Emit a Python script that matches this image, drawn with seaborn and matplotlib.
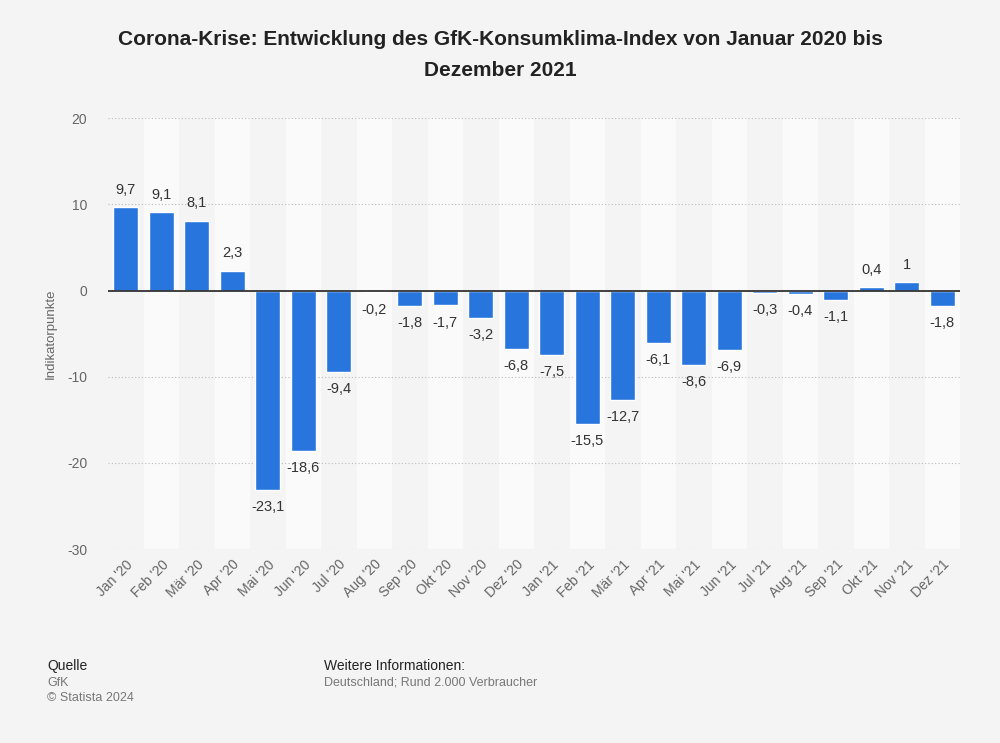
import pandas as pd
from matplotlib import pyplot as plt
import numpy as np
import seaborn as sns

months = ["Jan '20", "Feb '20", "Mär '20", "Apr '20", "Mai '20", "Jun '20",
          "Jul '20", "Aug '20", "Sep '20", "Okt '20", "Nov '20", "Dez '20",
          "Jan '21", "Feb '21", "Mär '21", "Apr '21", "Mai '21", "Jun '21",
          "Jul '21", "Aug '21", "Sep '21", "Okt '21", "Nov '21", "Dez '21"]
values = [9.7, 9.1, 8.1, 2.3, -23.1, -18.6, -9.4, -0.2, -1.8, -1.7, -3.2, -6.8,
          -7.5, -15.5, -12.7, -6.1, -8.6, -6.9, -0.3, -0.4, -1.1, 0.4, 1.0, -1.8]

df = pd.DataFrame({"month": months, "value": values})

sns.set_style("white")
plt.rcParams['font.family'] = ['Liberation Sans', 'DejaVu Sans']
plt.rcParams['axes.unicode_minus'] = False

bg = "#f4f4f4"
fig = plt.figure(figsize=[10, 7.43], dpi=100, facecolor=bg)
ax = fig.add_axes([0.108, 0.261, 0.852, 0.58])
ax.set_facecolor(bg)

# alternating column bands
for i in range(len(months)):
    if i % 2 == 1:
        ax.axvspan(i - 0.5, i + 0.5, color="#fafafa", zorder=0, lw=0)

sns.barplot(data=df, x="month", y="value", color="#2876dd", width=0.7,
            saturation=1, ax=ax, zorder=3)

ax.set_ylim(-30, 20)
ax.set_xlim(-0.5, len(months) - 0.5)
ax.set_yticks([-30, -20, -10, 0, 10, 20])
ax.yaxis.grid(True, linestyle=(0, (1, 2)), color="#bbbbbb", lw=0.8, zorder=1)
ax.set_axisbelow(True)
ax.axhline(0, color="#333333", lw=1.3, zorder=4)
for s in ax.spines.values():
    s.set_visible(False)

ax.tick_params(axis="both", length=0, labelsize=10, labelcolor="#666666")
ax.tick_params(axis="y", pad=15)
ax.tick_params(axis="x", pad=6)
plt.setp(ax.get_xticklabels(), rotation=45, ha="right", rotation_mode="anchor")
ax.set_xlabel("")
ax.set_ylabel("Indikatorpunkte", fontsize=9.5, color="#666666", labelpad=7)

for i, v in enumerate(values):
    txt = f"{v:g}".replace(".", ",")
    if v >= 0:
        ax.text(i, v + 1.2, txt, ha="center", va="bottom", fontsize=10.5, color="#333333")
    else:
        ax.text(i, v - 1.2, txt, ha="center", va="top", fontsize=10.5, color="#333333")

fig.text(0.5, 0.926, "Corona-Krise: Entwicklung des GfK-Konsumklima-Index von Januar 2020 bis\nDezember 2021",
         ha="center", va="center", fontsize=15, fontweight="bold", color="#222222", linespacing=1.75)

fig.text(0.047, 0.098, "Quelle", fontsize=10, color="#222222")
fig.text(0.047, 0.077, "GfK", fontsize=9, color="#777777")
fig.text(0.047, 0.056, "© Statista 2024", fontsize=9, color="#777777")
fig.text(0.324, 0.098, "Weitere Informationen:", fontsize=10, color="#222222")
fig.text(0.324, 0.077, "Deutschland; Rund 2.000 Verbraucher", fontsize=9, color="#777777")

plt.savefig("out.png", dpi=100, facecolor=bg)
